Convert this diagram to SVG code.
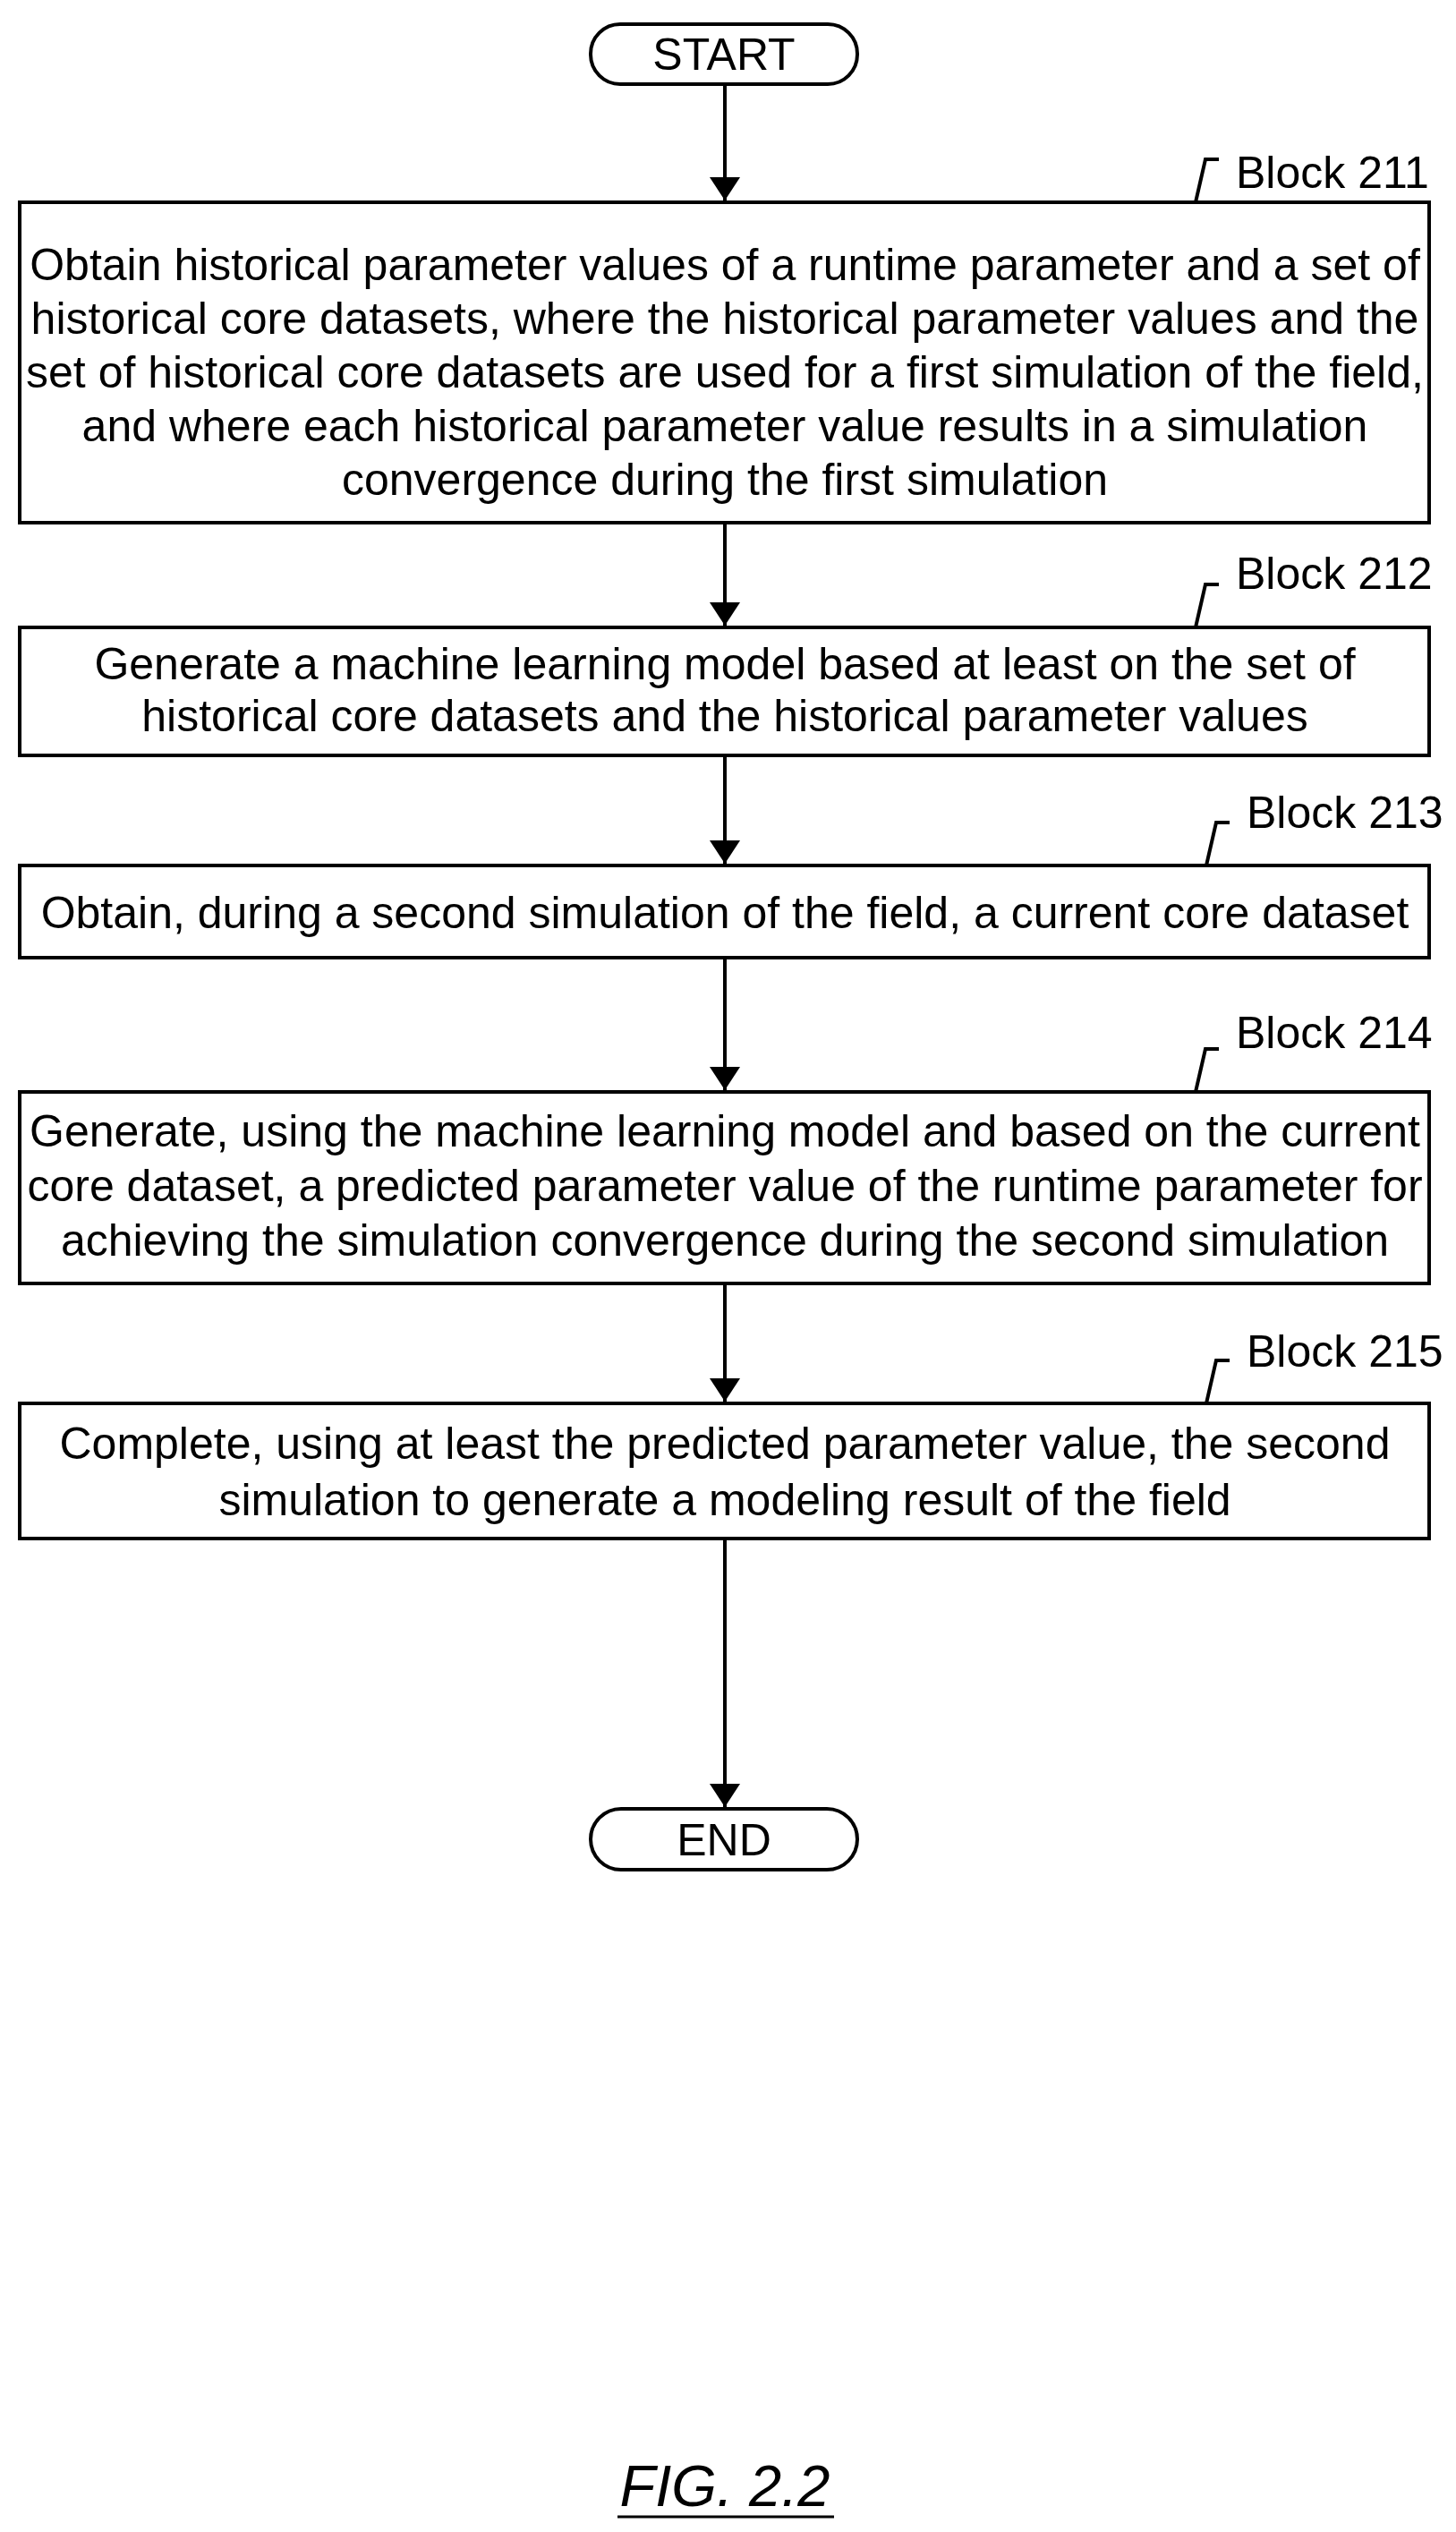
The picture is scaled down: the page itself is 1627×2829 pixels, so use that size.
<svg xmlns="http://www.w3.org/2000/svg" width="1627" height="2829" viewBox="0 0 1627 2829">
<style>
.b{fill:#fff;stroke:#000;stroke-width:4}
.t{font-family:"Liberation Sans",Arial,sans-serif;font-size:50px;text-anchor:middle;fill:#000}
.l{font-family:"Liberation Sans",Arial,sans-serif;font-size:50px;fill:#000}
.c{stroke:#000;stroke-width:4;fill:none}
</style>
<defs>
<marker id="ah" viewBox="0 0 10 10" refX="10" refY="5" markerWidth="26" markerHeight="34" orient="auto" markerUnits="userSpaceOnUse" preserveAspectRatio="none"><path d="M0,0 L10,5 L0,10 Z" fill="#000"/></marker></defs>
<rect width="1627" height="2829" fill="#fff"/>
<g id="connectors">
<path class="c" d="M810,94 V224" marker-end="url(#ah)"/>
<path class="c" d="M810,584 V699" marker-end="url(#ah)"/>
<path class="c" d="M810,844 V965" marker-end="url(#ah)"/>
<path class="c" d="M810,1070 V1218" marker-end="url(#ah)"/>
<path class="c" d="M810,1434 V1566" marker-end="url(#ah)"/>
<path class="c" d="M810,1719 V2019" marker-end="url(#ah)"/>
</g>
<g id="start"><rect class="b" x="660" y="27" width="298" height="67" rx="33"/><text class="t" x="809" y="78">START</text></g>
<g id="b211"><rect class="b" x="22" y="226" width="1575" height="358"/>
<text class="t" x="810" y="313">Obtain historical parameter values of a runtime parameter and a set of</text>
<text class="t" x="810" y="373">historical core datasets, where the historical parameter values and the</text>
<text class="t" x="810" y="433">set of historical core datasets are used for a first simulation of the field,</text>
<text class="t" x="810" y="493">and where each historical parameter value results in a simulation</text>
<text class="t" x="810" y="553">convergence during the first simulation</text>
<path class="c" d="M1336,226 L1347,178 H1362"/><text class="l" x="1381" y="210">Block 211</text></g>
<g id="b212"><rect class="b" x="22" y="701" width="1575" height="143"/>
<text class="t" x="810" y="759">Generate a machine learning model based at least on the set of</text>
<text class="t" x="810" y="817">historical core datasets and the historical parameter values</text>
<path class="c" d="M1336,701 L1347,653 H1362"/><text class="l" x="1381" y="658">Block 212</text></g>
<g id="b213"><rect class="b" x="22" y="967" width="1575" height="103"/>
<text class="t" x="810" y="1037">Obtain, during a second simulation of the field, a current core dataset</text>
<path class="c" d="M1348,967 L1359,919 H1374"/><text class="l" x="1393" y="925">Block 213</text></g>
<g id="b214"><rect class="b" x="22" y="1220" width="1575" height="214"/>
<text class="t" x="810" y="1281">Generate, using the machine learning model and based on the current</text>
<text class="t" x="810" y="1342">core dataset, a predicted parameter value of the runtime parameter for</text>
<text class="t" x="810" y="1403">achieving the simulation convergence during the second simulation</text>
<path class="c" d="M1336,1220 L1347,1172 H1362"/><text class="l" x="1381" y="1171">Block 214</text></g>
<g id="b215"><rect class="b" x="22" y="1568" width="1575" height="151"/>
<text class="t" x="810" y="1630">Complete, using at least the predicted parameter value, the second</text>
<text class="t" x="810" y="1693">simulation to generate a modeling result of the field</text>
<path class="c" d="M1348,1568 L1359,1520 H1374"/><text class="l" x="1393" y="1527">Block 215</text></g>
<g id="end"><rect class="b" x="660" y="2021" width="298" height="68" rx="34"/><text class="t" x="809" y="2073">END</text></g>
<g id="fig"><text class="t" x="810" y="2800" style="font-size:65px;font-style:italic">FIG. 2.2</text><path d="M690,2812 H932" stroke="#000" stroke-width="3"/></g>
</svg>
